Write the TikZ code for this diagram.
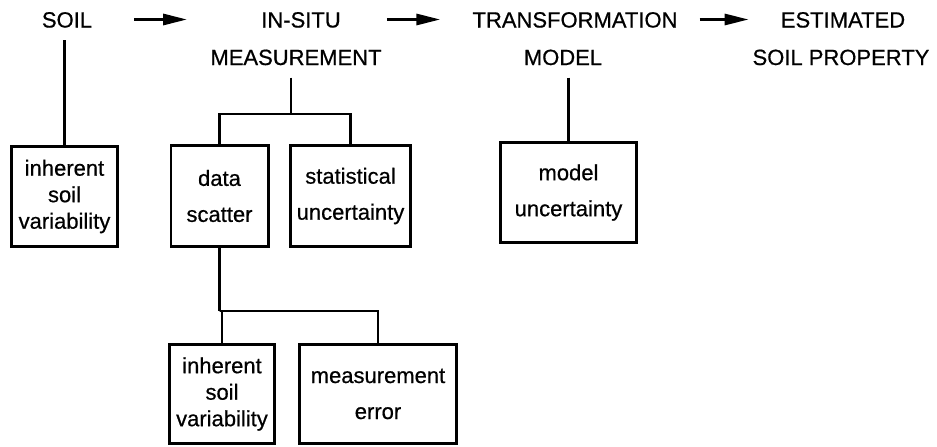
\documentclass[tikz,border=0pt]{standalone}
\usepackage{fontspec}
\setmainfont{Liberation Sans}[FakeBold=0.6]
\usetikzlibrary{arrows.meta}
\begin{document}
\begin{tikzpicture}[x=1pt,y=-1pt,
  head/.style={inner sep=0pt, anchor=base, text height=16pt, text depth=0pt, font=\fontsize{22}{26}\selectfont},
  box/.style={draw, line width=2.6pt, inner sep=0pt, align=center},
  tri/.style={font=\fontsize{22}{26.5}\selectfont},
  duo/.style={font=\fontsize{22}{36}\selectfont},
  link/.style={line width=2.6pt},
  drop/.style={line width=2.6pt, shorten <=12.5pt},
  flow/.style={line width=3pt, -{Triangle[length=24pt,width=11pt]}}]
\useasboundingbox (0,0) rectangle (937,447);
% header row
\node[head] (soil) at (67,27.5) {SOIL};
\node[head] (insitu) at (301,27.5) {IN-SITU};
\node[head] (meas) at (296,65) {MEASUREMENT};
\node[head] (trans) at (575,27.5) {TRANSFORMATION};
\node[head] (model) at (563,65) {MODEL};
\node[head] (est) at (843,27.5) {ESTIMATED};
\node[head] (prop) at (841,65) {SOIL PROPERTY};
% arrows
\draw[flow, shorten <=42pt, shorten >=74pt] (soil.east) -- (insitu.west);
\draw[flow, shorten <=46pt, shorten >=32pt] (insitu.east) -- (trans.west);
\draw[flow, shorten <=22pt, shorten >=32pt] (trans.east) -- (est.west);
% boxes
\node[box, tri, minimum width=106.4pt, minimum height=100.4pt] (isv) at (64.5,196.5) {inherent\\soil\\variability};
\node[box, duo, minimum width=97.4pt, minimum height=101.4pt] (ds) at (219.5,196) {data\\scatter};
\node[box, duo, minimum width=120.4pt, minimum height=101.4pt] (st) at (350.5,196) {statistical\\uncertainty};
\node[box, duo, minimum width=136.4pt, minimum height=100.4pt] (mu) at (568.5,192.5) {model\\uncertainty};
\node[box, tri, minimum width=105.4pt, minimum height=99.4pt] (ib) at (222,394) {inherent\\soil\\variability};
\node[box, duo, minimum width=157.4pt, minimum height=99.4pt] (me) at (378,394) {measurement\\error};
% connectors
\coordinate (j1) at (291,114);
\coordinate (j2) at (219.5,311);
\draw[drop] (soil.south -| isv.north) -- (isv.north);
\draw[drop] (j1 |- meas.south) -- (j1);
\draw[link] (ds.north) |- (j1) -| (st.north);
\draw[drop] (mu.north |- model.south) -- (mu.north);
\draw[link] (ds.south) -- (j2);
\draw[link] (ib.north) |- (j2) -| (me.north);
\end{tikzpicture}
\end{document}
